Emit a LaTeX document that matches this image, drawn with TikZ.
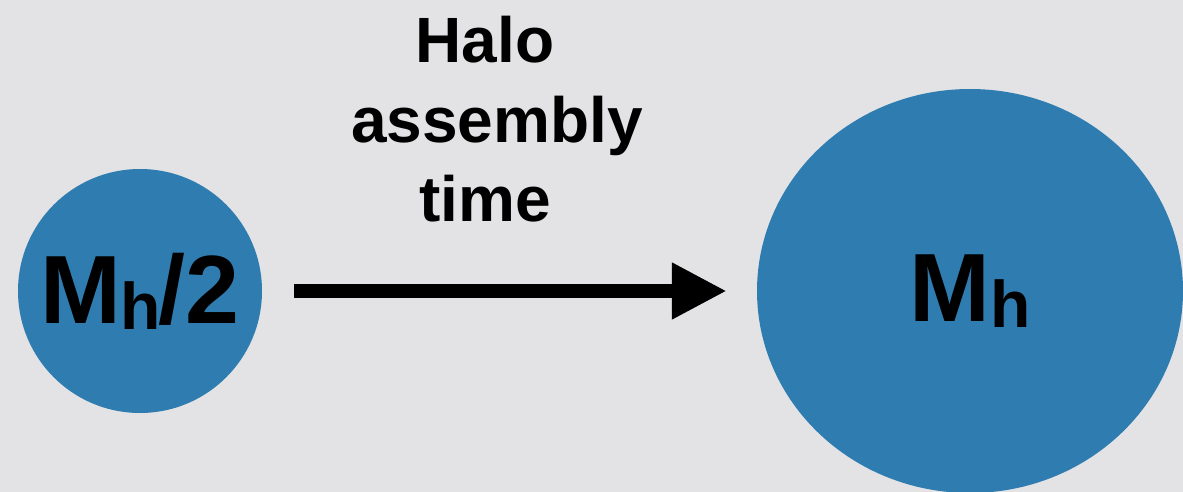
\documentclass[tikz,border=0pt]{standalone}
\usepackage{fontspec}
\setmainfont{Liberation Sans}
\usetikzlibrary{arrows.meta,shapes.geometric}
\definecolor{bg}{HTML}{E3E3E5}
\definecolor{halo}{HTML}{2F7DB0}
\tikzset{
  halobox/.style={fill=halo,draw=none,inner sep=0pt},
  bigtxt/.style={font=\bfseries\fontsize{97}{97}\selectfont},
  flowarrow/.style={line width=14pt,-{Triangle[length=55pt,width=53pt]}},
  captxt/.style={font=\bfseries\fontsize{64}{79.5}\selectfont,align=center,inner sep=0pt}
}
\newcommand{\subh}{\raisebox{-6pt}{\fontsize{66}{66}\selectfont h}}
\begin{document}
\begin{tikzpicture}[x=1pt,y=-1pt]
\useasboundingbox (0,0) rectangle (1183,492);
\clip (0,0) rectangle (1183,492);
\fill[bg] (0,0) rectangle (1183,492);
\node[halobox,circle,minimum size=244pt,bigtxt] (s) at (140,291) {M\kern-1pt\subh\kern-2pt/2};
\node[halobox,ellipse,minimum width=426pt,minimum height=404pt,bigtxt] (b) at (970,291) {M\subh};
\draw[flowarrow,shorten <=32pt,shorten >=30pt] (s.east) -- (b.west);
\node[captxt,anchor=north] (t) at (485,16) {Halo\\\hspace*{24pt}assembly\\time};
\end{tikzpicture}
\end{document}
